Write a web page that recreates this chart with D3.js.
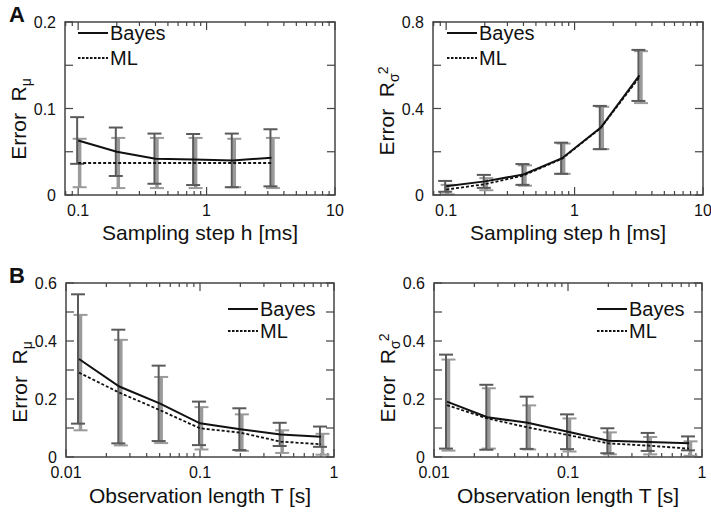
<!DOCTYPE html>
<html lang="en">
<head>
  <title>Error vs sampling step and observation length</title>
  <script src="https://cdn.jsdelivr.net/npm/d3@7"></script>
  <style>
    body { margin: 0; background: #fff; }
    text { font-family: "Liberation Sans", Arial, sans-serif; fill: #111; }
  </style>
</head>
<body>
  <script>
    // x values (sampling step h in ms, observation length T in s)
    let stepH = [0.1, 0.2, 0.4, 0.8, 1.6, 3.2];
    let lengthT = [0.0125, 0.025, 0.05, 0.1, 0.2, 0.4, 0.8];

    // panel A, left: R_mu vs h
    let bayesMuH = [0.063, 0.050, 0.042, 0.041, 0.040, 0.043];
    let bayesMuHsd = [0.027, 0.028, 0.029, 0.0295, 0.031, 0.033];
    let mlMuH = [0.037, 0.037, 0.037, 0.037, 0.037, 0.037];
    let mlMuHsd = [0.028, 0.029, 0.029, 0.029, 0.028, 0.029];

    // panel A, right: R_sigma^2 vs h
    let bayesSigH = [0.040, 0.063, 0.095, 0.170, 0.312, 0.553];
    let bayesSigHsd = [0.025, 0.030, 0.048, 0.072, 0.100, 0.118];
    let mlSigH = [0.025, 0.050, 0.090, 0.168, 0.310, 0.545];
    let mlSigHsd = [0.022, 0.028, 0.047, 0.070, 0.098, 0.120];

    // panel B, left: R_mu vs T
    let bayesMuT = [0.338, 0.243, 0.185, 0.116, 0.096, 0.078, 0.070];
    let bayesMuTsd = [0.223, 0.196, 0.130, 0.075, 0.072, 0.040, 0.035];
    let mlMuT = [0.291, 0.222, 0.162, 0.099, 0.084, 0.053, 0.044];
    let mlMuTsd = [0.199, 0.182, 0.114, 0.073, 0.063, 0.039, 0.036];

    // panel B, right: R_sigma^2 vs T
    let bayesSigT = [0.191, 0.137, 0.118, 0.087, 0.056, 0.052, 0.047];
    let bayesSigTsd = [0.162, 0.112, 0.090, 0.060, 0.043, 0.031, 0.024];
    let mlSigT = [0.179, 0.133, 0.102, 0.076, 0.047, 0.039, 0.029];
    let mlSigTsd = [0.157, 0.104, 0.076, 0.057, 0.038, 0.030, 0.025];

    // tick labels
    let xTicksH = [0.1, 1, 10];
    let xTicksT = [0.01, 0.1, 1];
    let yTicksMuH = [0, 0.05, 0.1, 0.15, 0.2];
    let yLabelsMuH = [0, 0.1, 0.2];
    let yTicksSigH = [0, 0.2, 0.4, 0.6, 0.8];
    let yLabelsSigH = [0, 0.4, 0.8];
    let yTicksT = [0, 0.1, 0.2, 0.3, 0.4, 0.5, 0.6];
    let yLabelsT = [0, 0.2, 0.4, 0.6];

    let svg = d3.select("body").append("svg")
      .attr("width", 711)
      .attr("height", 515);

    function drawPanel(p) {
      let x = d3.scaleLog().domain(p.xDomain).range([p.left, p.right]);
      let y = d3.scaleLinear().domain(p.yDomain).range([p.bottom, p.top]);
      let g = svg.append("g");

      // minor log ticks on top and bottom
      let lo = Math.floor(Math.log10(p.xDomain[0])), hi = Math.ceil(Math.log10(p.xDomain[1]));
      let xt = [];
      for (let e = lo; e <= hi; e++) {
        for (let m = 1; m <= 9; m++) {
          let v = m * Math.pow(10, e);
          if (v >= p.xDomain[0] && v <= p.xDomain[1] * 1.001) xt.push({ v: v, major: m === 1 });
        }
      }
      g.selectAll(".xtb").data(xt).join("line")
        .attr("x1", d => x(d.v)).attr("x2", d => x(d.v))
        .attr("y1", p.bottom).attr("y2", d => p.bottom - (d.major ? 8 : 4))
        .attr("stroke", "#444").attr("stroke-width", 1.2);
      g.selectAll(".xtt").data(xt).join("line")
        .attr("x1", d => x(d.v)).attr("x2", d => x(d.v))
        .attr("y1", p.top).attr("y2", d => p.top + (d.major ? 8 : 4))
        .attr("stroke", "#444").attr("stroke-width", 1.2);

      // y ticks on left and right
      g.selectAll(".ytl").data(p.yTicks).join("line")
        .attr("x1", p.left).attr("x2", p.left + 8)
        .attr("y1", d => y(d)).attr("y2", d => y(d))
        .attr("stroke", "#444").attr("stroke-width", 1.2);
      g.selectAll(".ytr").data(p.yTicks).join("line")
        .attr("x1", p.right).attr("x2", p.right - 8)
        .attr("y1", d => y(d)).attr("y2", d => y(d))
        .attr("stroke", "#444").attr("stroke-width", 1.2);

      // tick labels
      g.selectAll(".xl").data(p.xTicks).join("text")
        .attr("x", d => x(d)).attr("y", p.bottom + 21)
        .attr("text-anchor", "middle").attr("font-size", 16)
        .text(d => d);
      g.selectAll(".yl").data(p.yLabels).join("text")
        .attr("x", p.left - 9).attr("y", d => y(d) + 6)
        .attr("text-anchor", "end").attr("font-size", 16)
        .text(d => d);

      // error bars: ML light, Bayes dark
      let bars = [
        { m: p.ml, s: p.mlSd, dx: 1.5, color: "#9a9a9a", w: 3.5 },
        { m: p.bayes, s: p.bayesSd, dx: -1, color: "#5a5a5a", w: 2 }
      ];
      bars.forEach(b => {
        let pts = p.xs.map((v, i) => ({ x: x(v) + b.dx, lo: y(b.m[i] - b.s[i]), hi: y(b.m[i] + b.s[i]) }));
        g.selectAll(null).data(pts).join("line")
          .attr("x1", d => d.x).attr("x2", d => d.x)
          .attr("y1", d => d.lo).attr("y2", d => d.hi)
          .attr("stroke", b.color).attr("stroke-width", b.w);
        ["lo", "hi"].forEach(k => {
          g.selectAll(null).data(pts).join("line")
            .attr("x1", d => d.x - 7).attr("x2", d => d.x + 7)
            .attr("y1", d => d[k]).attr("y2", d => d[k])
            .attr("stroke", b.color).attr("stroke-width", 2);
        });
      });

      // lines
      let line = d3.line().x(d => x(d[0])).y(d => y(d[1]));
      g.append("path").datum(p.xs.map((v, i) => [v, p.ml[i]]))
        .attr("d", line).attr("fill", "none")
        .attr("stroke", "#111").attr("stroke-width", 1.8).attr("stroke-dasharray", "3,2");
      g.append("path").datum(p.xs.map((v, i) => [v, p.bayes[i]]))
        .attr("d", line).attr("fill", "none")
        .attr("stroke", "#111").attr("stroke-width", 2);

      // frame
      g.append("rect")
        .attr("x", p.left).attr("y", p.top)
        .attr("width", p.right - p.left).attr("height", p.bottom - p.top)
        .attr("fill", "none").attr("stroke", "#444").attr("stroke-width", 1.5);

      // legend
      let lg = p.legend;
      g.append("line").attr("x1", lg.x).attr("x2", lg.x + 30).attr("y1", lg.y).attr("y2", lg.y)
        .attr("stroke", "#111").attr("stroke-width", 2);
      g.append("line").attr("x1", lg.x).attr("x2", lg.x + 30).attr("y1", lg.y + lg.gap).attr("y2", lg.y + lg.gap)
        .attr("stroke", "#111").attr("stroke-width", 1.8).attr("stroke-dasharray", "2.5,1.5");
      g.append("text").attr("x", lg.x + 32).attr("y", lg.y + 7).attr("font-size", 20).text("Bayes");
      g.append("text").attr("x", lg.x + 32).attr("y", lg.y + lg.gap + 7).attr("font-size", 20).text("ML");

      // x title
      g.append("text").attr("x", (p.left + p.right) / 2).attr("y", p.xTitleY)
        .attr("text-anchor", "middle").attr("font-size", 21).text(p.xTitle);

      // y title
      let yt = g.append("text")
        .attr("transform", `translate(${p.left - 39}, ${p.yTitleY}) rotate(-90)`)
        .attr("text-anchor", "middle").attr("font-size", 21);
      yt.append("tspan").text("Error\u00a0\u00a0R");
      if (p.sigma) {
        yt.append("tspan").attr("font-size", 14).attr("dy", 5).text("σ");
        yt.append("tspan").attr("font-size", 14).attr("dy", -11).attr("dx", -1).text("2");
      } else {
        yt.append("tspan").attr("font-size", 14).attr("dy", 5).text("μ");
      }
    }

    drawPanel({
      xs: stepH, xDomain: [0.079, 10], xTicks: xTicksH,
      yDomain: [0, 0.2], yTicks: yTicksMuH, yLabels: yLabelsMuH,
      left: 65, right: 335, top: 22, bottom: 195,
      bayes: bayesMuH, bayesSd: bayesMuHsd, ml: mlMuH, mlSd: mlMuHsd,
      legend: { x: 78, y: 33, gap: 25 },
      xTitle: "Sampling step h [ms]", xTitleY: 240, yTitleY: 119, sigma: false
    });
    drawPanel({
      xs: stepH, xDomain: [0.079, 10], xTicks: xTicksH,
      yDomain: [0, 0.8], yTicks: yTicksSigH, yLabels: yLabelsSigH,
      left: 433, right: 703, top: 22, bottom: 195,
      bayes: bayesSigH, bayesSd: bayesSigHsd, ml: mlSigH, mlSd: mlSigHsd,
      legend: { x: 447, y: 33, gap: 25 },
      xTitle: "Sampling step h [ms]", xTitleY: 240, yTitleY: 111, sigma: true
    });
    drawPanel({
      xs: lengthT, xDomain: [0.01, 1], xTicks: xTicksT,
      yDomain: [0, 0.6], yTicks: yTicksT, yLabels: yLabelsT,
      left: 66, right: 334, top: 283, bottom: 457,
      bayes: bayesMuT, bayesSd: bayesMuTsd, ml: mlMuT, mlSd: mlMuTsd,
      legend: { x: 228, y: 309, gap: 22 },
      xTitle: "Observation length T [s]", xTitleY: 503, yTitleY: 382, sigma: false
    });
    drawPanel({
      xs: lengthT, xDomain: [0.01, 1], xTicks: xTicksT,
      yDomain: [0, 0.6], yTicks: yTicksT, yLabels: yLabelsT,
      left: 434, right: 702, top: 283, bottom: 457,
      bayes: bayesSigT, bayesSd: bayesSigTsd, ml: mlSigT, mlSd: mlSigTsd,
      legend: { x: 597, y: 309, gap: 22 },
      xTitle: "Observation length T [s]", xTitleY: 503, yTitleY: 378, sigma: true
    });

    // panel letters
    svg.append("text").attr("x", 9).attr("y", 22).attr("font-size", 22).attr("font-weight", "bold").text("A");
    svg.append("text").attr("x", 9).attr("y", 283).attr("font-size", 22).attr("font-weight", "bold").text("B");
  </script>
</body>
</html>
